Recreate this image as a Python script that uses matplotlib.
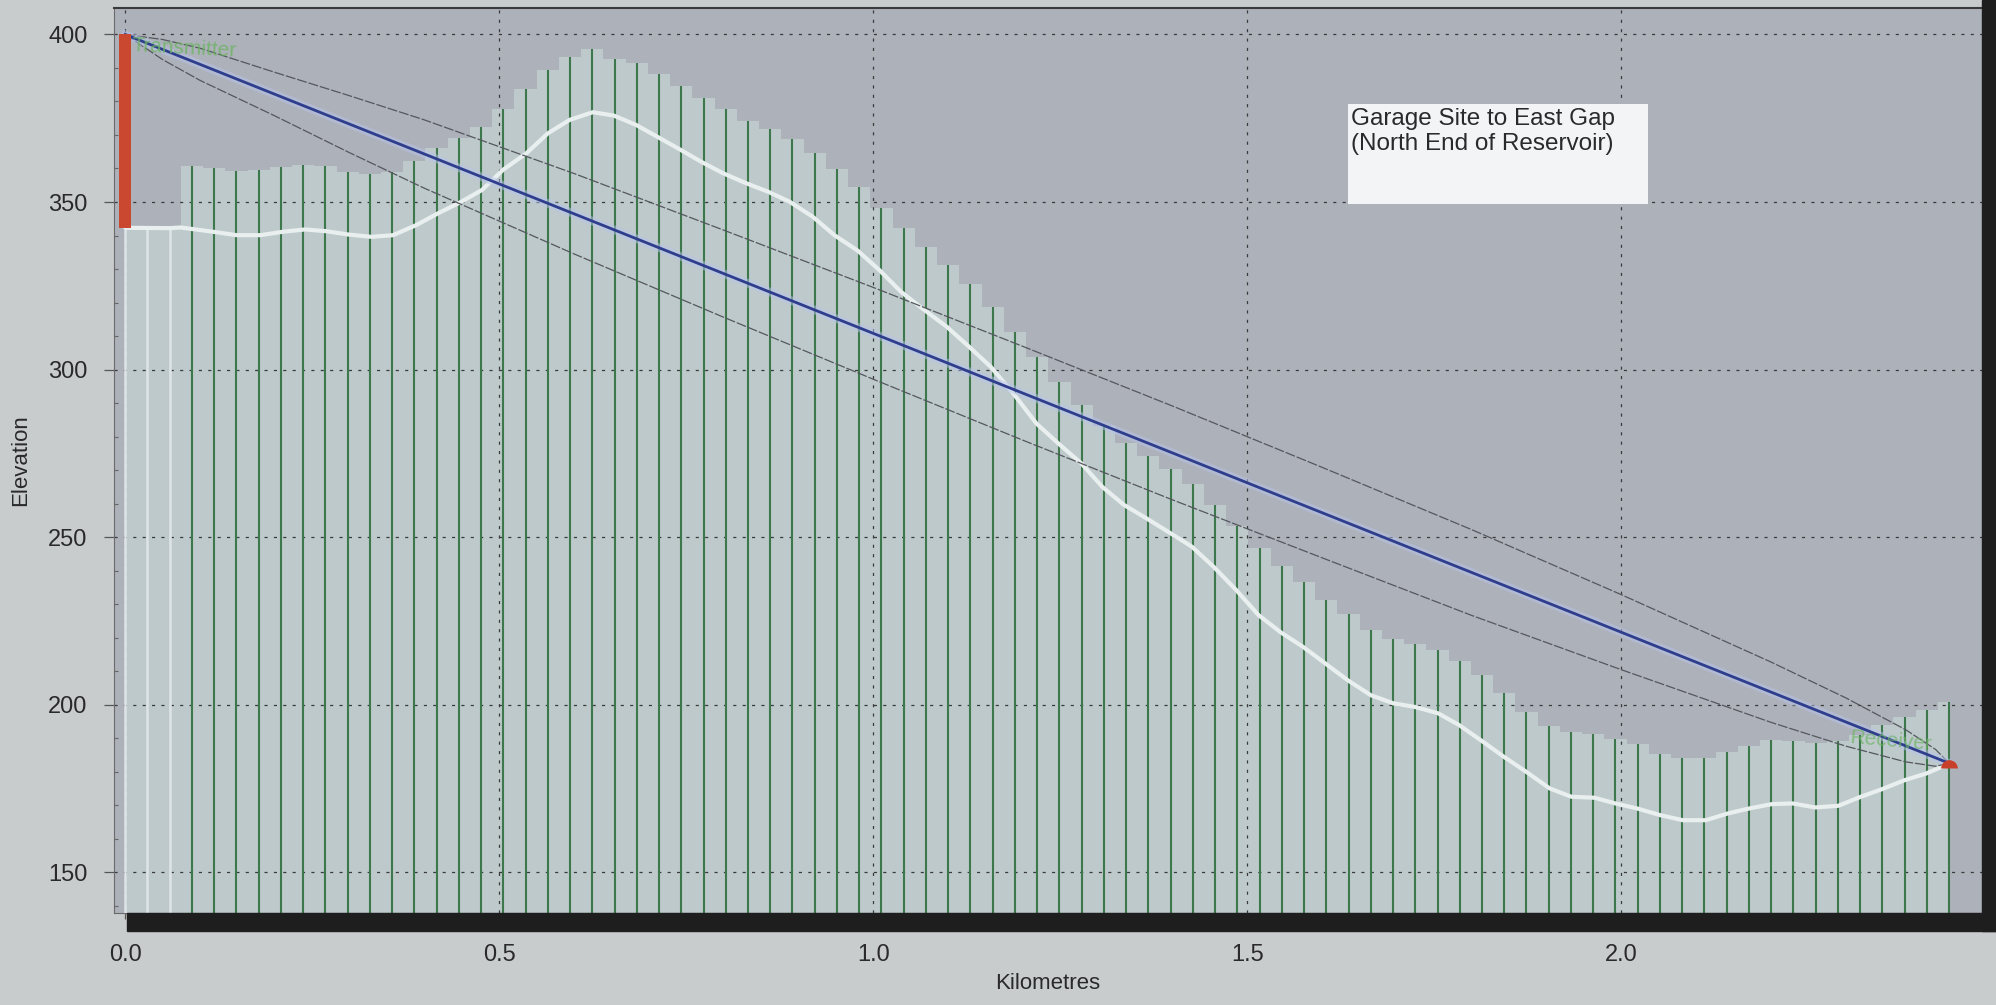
import numpy as np
import matplotlib.pyplot as plt
from matplotlib.patches import Rectangle

plt.rcParams['font.family'] = ['Liberation Sans', 'DejaVu Sans']

# ground profile (white line), km / metres
terrain_km = [0.0, 0.06, 0.074, 0.118, 0.149, 0.181, 0.210, 0.240, 0.268, 0.298,
              0.329, 0.358, 0.389, 0.418, 0.447, 0.477, 0.505, 0.536, 0.565, 0.594,
              0.625, 0.653, 0.683, 0.711, 0.739, 0.770, 0.799, 0.830, 0.859, 0.888,
              0.919, 0.948, 0.979, 1.008, 1.037, 1.068, 1.098, 1.128, 1.157, 1.187,
              1.218, 1.247, 1.278, 1.306, 1.335, 1.365, 1.394, 1.426, 1.455, 1.485,
              1.515, 1.545, 1.574, 1.604, 1.634, 1.665, 1.695, 1.724, 1.755, 1.783,
              1.815, 1.843, 1.873, 1.904, 1.933, 1.964, 1.992, 2.021, 2.052, 2.082,
              2.113, 2.142, 2.171, 2.201, 2.229, 2.259, 2.290, 2.319, 2.350, 2.378,
              2.407, 2.428, 2.438]
terrain_elev = [342.3, 342.2, 342.4, 341.1, 340.1, 340.1, 341.1, 341.8, 341.3, 340.3,
                339.6, 340.1, 343.1, 346.6, 349.8, 353.6, 359.6, 364.5, 370.5, 374.5,
                376.8, 375.8, 373.0, 369.5, 366.0, 362.0, 358.6, 355.6, 353.1, 350.1,
                345.6, 340.1, 335.5, 329.7, 323.2, 317.8, 312.8, 306.8, 300.8, 292.9,
                283.9, 278.0, 272.0, 265.0, 259.6, 255.6, 251.6, 247.1, 241.1, 234.2,
                226.7, 221.5, 217.3, 212.3, 207.3, 202.8, 200.4, 199.3, 197.4, 193.9,
                188.9, 184.4, 179.9, 175.0, 172.5, 172.2, 170.5, 169.0, 167.0, 165.5,
                165.5, 167.5, 169.0, 170.3, 170.5, 169.3, 169.8, 172.4, 174.9, 177.4,
                179.4, 181.4, 182.4]

# sample points along the path
path_length = 2.438
n_samples = 83
first_samples_top = [342.3, 342.2, 342.2]  # white lines at the start
clutter_top = [360.8, 360.1, 359.3, 359.6, 360.4, 361.0, 360.7, 359.0, 358.3, 359.0,
               362.3, 366.1, 369.2, 372.5, 377.7, 383.6, 389.4, 393.4, 395.6, 392.8,
               391.4, 388.2, 384.6, 381.0, 377.7, 374.3, 371.7, 368.8, 364.5, 359.8,
               354.4, 348.3, 342.1, 336.7, 331.2, 325.5, 318.6, 311.2, 303.8, 296.3,
               289.4, 283.1, 278.0, 274.2, 270.3, 265.7, 259.6, 253.3, 246.6, 241.3,
               236.5, 231.1, 226.9, 222.4, 219.7, 218.0, 216.3, 213.1, 208.8, 203.5,
               197.7, 193.6, 191.9, 191.1, 189.6, 188.1, 185.4, 184.2, 184.0, 185.9,
               187.5, 189.4, 189.2, 188.4, 189.0, 191.0, 193.8, 196.4, 198.3, 200.8]

# line of sight and fresnel zone edges
los_km = [0.0, 2.438]
los_elev = [400.0, 182.5]
fresnel_km = [0.0, 0.05, 0.1, 0.2, 0.3, 0.4, 0.6, 0.8, 1.0, 1.2, 1.4, 1.6, 1.8,
              2.0, 2.2, 2.3, 2.38, 2.42, 2.438]
fresnel_upper = [400.0, 398.5, 395.9, 388.7, 381.7, 374.5, 358.5, 341.6, 324.5, 306.9,
                 289.1, 270.8, 252.2, 232.8, 212.7, 202.0, 192.5, 186.6, 182.5]
fresnel_lower = [400.0, 392.5, 386.3, 375.7, 364.7, 354.1, 334.5, 315.6, 297.1, 278.9,
                 261.1, 243.8, 226.6, 210.4, 194.7, 187.6, 182.9, 181.6, 182.5]

tx_km, tx_base, tx_top = 0.0, 342.3, 400.0
rx_km, rx_elev = 2.438, 181.0

x_ticks = [0.0, 0.5, 1.0, 1.5, 2.0]
y_ticks = [150, 200, 250, 300, 350, 400]

W, H = 1996, 1005
fig = plt.figure(figsize=(W / 100, H / 100), dpi=100, facecolor='#c9cccd')
ax = fig.add_axes([114 / W, 1 - 913 / H, (1982 - 114) / W, (913 - 8) / H])
ax.set_facecolor('#adb1ba')
ax.set_xlim(-0.015, 2.482)
ax.set_ylim(137.8, 407.9)

sample_km = np.linspace(0, path_length, n_samples)
tops = np.array(first_samples_top + clutter_top)

# pale area under the clutter heights
ax.fill_between(sample_km, 130, tops, step='mid', color='#bdc9cb', lw=0, zorder=1)

ax.grid(True, color='#3a3a3a', linestyle=(0, (2.5, 5)), lw=0.9, zorder=2)

ax.vlines(sample_km[:3], 130, tops[:3], color='#dfe4e8', lw=1.8, zorder=3)
ax.vlines(sample_km[3:], 130, tops[3:], color='#3d774c', lw=1.5, zorder=3)

ax.plot(terrain_km, terrain_elev, color='#e9efee', lw=3.0, zorder=4,
        solid_capstyle='round')

ax.plot(fresnel_km, fresnel_upper, color='#55575e', lw=0.9, ls=(0, (8, 1.5)), zorder=5)
ax.plot(fresnel_km, fresnel_lower, color='#55575e', lw=0.9, ls=(0, (8, 1.5)), zorder=5)

ax.plot(los_km, los_elev, color='#b8c4ec', lw=6, alpha=0.5, zorder=5)
ax.plot(los_km, los_elev, color='#2e3e8c', lw=2.0, zorder=6)

ax.bar(tx_km, tx_top - tx_base, bottom=tx_base, width=0.016, color='#c9482f', zorder=7)
ax.plot(rx_km, rx_elev, marker='o', ms=12, fillstyle='top', color='#c9402a',
        markerfacecoloralt='none', mew=0, zorder=7)

ax.text(0.008, 399.5, 'Transmitter', color='#6cb462', alpha=0.8, fontsize=15,
        ha='left', va='top', rotation=-3, zorder=8)
ax.text(2.36, 189, 'Receiver', color='#6cb462', alpha=0.7, fontsize=15,
        ha='center', va='center', rotation=-5, zorder=8)

# title box
ax.add_patch(Rectangle((1.635, 349.4), 0.40, 29.9, facecolor='#f2f4f6',
                       edgecolor='none', zorder=8))
ax.text(1.638, 378.0, 'Garage Site to East Gap\n(North End of Reservoir)',
        fontsize=17.5, color='#2a2a2a', ha='left', va='top', linespacing=1.15, zorder=9)

ax.set_xticks(x_ticks)
ax.set_xticklabels([f'{v:.1f}' for v in x_ticks])
ax.set_yticks(y_ticks)
ax.set_yticks(np.arange(140, 410, 10), minor=True)
ax.tick_params(axis='y', which='major', length=7, width=0.9, color='#555555',
               pad=12, labelsize=17, labelcolor='#2a2a2a')
ax.tick_params(axis='y', which='minor', length=3, width=0.8, color='#666666', direction='in')
ax.tick_params(axis='x', length=4, width=0.9, color='#555555', pad=18,
               labelsize=17, labelcolor='#2a2a2a')

ax.set_xlabel('Kilometres', fontsize=16, color='#2a2a2a', labelpad=5)
ax.set_ylabel('Elevation', fontsize=16, color='#2a2a2a', labelpad=12)

for side in ['left', 'bottom']:
    ax.spines[side].set_color('#6a6a6a')
ax.spines['top'].set_color('#3a3a3a')
ax.spines['top'].set_linewidth(1.5)
ax.spines['right'].set_visible(False)

# black frame pieces along the bottom and right
fig.patches.append(Rectangle((127 / W, 1 - 931 / H), (W - 127) / W, 18 / H,
                             transform=fig.transFigure, color='#1e1e1e', zorder=3))
fig.patches.append(Rectangle((1982 / W, 1 - 931 / H), 14 / W, 931 / H,
                             transform=fig.transFigure, color='#1e1e1e', zorder=3))

fig.savefig('out.png', dpi=100, facecolor=fig.get_facecolor())
